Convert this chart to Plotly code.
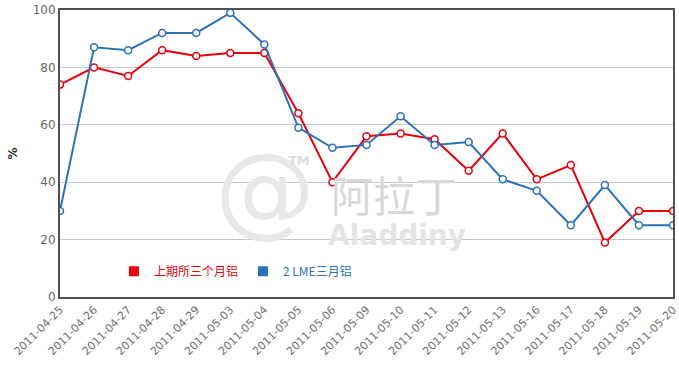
import plotly.graph_objects as go

dates = ["2011-04-25", "2011-04-26", "2011-04-27", "2011-04-28", "2011-04-29",
         "2011-05-03", "2011-05-04", "2011-05-05", "2011-05-06", "2011-05-09",
         "2011-05-10", "2011-05-11", "2011-05-12", "2011-05-13", "2011-05-16",
         "2011-05-17", "2011-05-18", "2011-05-19", "2011-05-20"]
shfe = [74, 80, 77, 86, 84, 85, 85, 64, 40, 56, 57, 55, 44, 57, 41, 46, 19, 30, 30]
lme = [30, 87, 86, 92, 92, 99, 88, 59, 52, 53, 63, 53, 54, 41, 37, 25, 39, 25, 25]
y_ticks = [0, 20, 40, 60, 80, 100]

RED = "#e8000b"
BLUE = "#2b72b8"

fig = go.Figure()

# watermark
fig.add_annotation(xref="paper", yref="paper", x=0.25, y=0.16, text="@",
                   showarrow=False, font=dict(size=100, color="#e8e8e8", family="DejaVu Sans"))
fig.add_annotation(xref="paper", yref="paper", x=0.545, y=0.36, text="阿拉丁",
                   showarrow=False, font=dict(size=42, color="#d8d8d8", family="Noto Sans CJK SC"))
fig.add_annotation(xref="paper", yref="paper", x=0.55, y=0.15, text="<b>Aladdiny</b>",
                   showarrow=False, font=dict(size=28, color="#e4e4e4", family="DejaVu Sans"))
fig.add_annotation(xref="paper", yref="paper", x=0.39, y=0.475, text="<b>TM</b>",
                   showarrow=False, font=dict(size=13, color="#dddddd", family="DejaVu Sans"))

fig.add_trace(go.Scatter(x=dates, y=shfe, mode="lines+markers", showlegend=False,
                         line=dict(color=RED, width=2),
                         marker=dict(symbol="circle", size=7, color="white",
                                     line=dict(color=RED, width=1.5))))
fig.add_trace(go.Scatter(x=dates, y=lme, mode="lines+markers", showlegend=False,
                         line=dict(color=BLUE, width=2),
                         marker=dict(symbol="circle", size=7, color="white",
                                     line=dict(color=BLUE, width=1.5))))
# legend entries
fig.add_trace(go.Scatter(x=[None], y=[None], mode="markers",
                         name="<span style='color:%s'>上期所三个月铝</span>" % RED,
                         marker=dict(symbol="square", size=10, color=RED)))
fig.add_trace(go.Scatter(x=[None], y=[None], mode="markers",
                         name="<span style='color:%s'>2 LME三月铝</span>" % BLUE,
                         marker=dict(symbol="square", size=10, color=BLUE)))

fig.update_layout(
    width=679, height=368,
    margin=dict(l=60, r=6, t=10, b=71),
    paper_bgcolor="white", plot_bgcolor="white",
    font=dict(family="DejaVu Sans", size=11, color="#666666"),
    legend=dict(orientation="h", x=0.088, y=0.09, xanchor="left", yanchor="middle",
                bgcolor="rgba(0,0,0,0)", font=dict(size=12, family="Noto Sans CJK SC"),
                itemwidth=30, tracegroupgap=0),
    xaxis=dict(type="category", range=[0, len(dates) - 1], tickangle=-45,
               showgrid=False, showline=True, linecolor="#505050", linewidth=2,
               mirror=True, ticks="", tickfont=dict(size=11, color="#707070"),
               automargin=False),
    yaxis=dict(range=[0, 100], tickvals=y_ticks, showgrid=True, gridcolor="#c8c8c8",
               gridwidth=1, showline=True, linecolor="#505050", linewidth=2, mirror=True,
               zeroline=False, ticks="", tickfont=dict(size=12, color="#666666"),
               title=dict(text="<b>%</b>", font=dict(size=12, color="#333333"), standoff=12),
               automargin=False),
)

fig.write_html("out.html", config={"displayModeBar": False},
               post_script="document.body.style.margin='0px';")
